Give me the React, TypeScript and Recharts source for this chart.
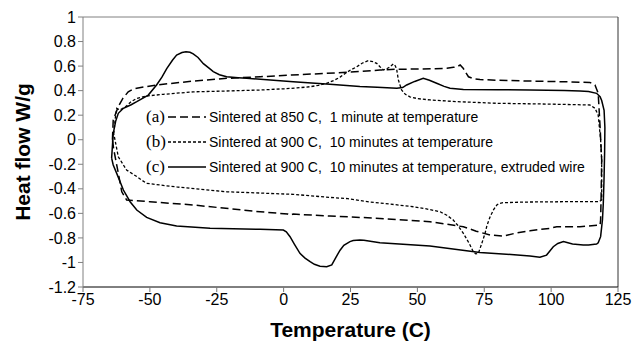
import React from 'react';
import { LineChart, Line, XAxis, YAxis, ReferenceLine, Legend } from 'recharts';

// Temperature (C) ticks and Heat flow (W/g) ticks
const xTicks = [-75, -50, -25, 0, 25, 50, 75, 100, 125];
const yTicks = [-1.2, -1, -0.8, -0.6, -0.4, -0.2, 0, 0.2, 0.4, 0.6, 0.8, 1];

const seriesNames = [
  'Sintered at 850 C,  1 minute at temperature',
  'Sintered at 900 C,  10 minutes at temperature',
  'Sintered at 900 C,  10 minutes at temperature, extruded wire',
];
const seriesTags = ['(a)', '(b)', '(c)'];

// (a) Sintered at 850 C, 1 minute — loop: heating (upper) then cooling (lower)
const aTemp = [
  -64, -63.7, -61.8, -60, -58.1, -56.5, -54.9, -47.5, -33.8, -21.3, -8.8, 3, 16.1, 28.5, 36, 42.3, 55, 61, 63.5, 64.7, 66,
  67.2, 68, 69.1, 71, 73.4, 80, 92.1, 105, 114.5, 116.4, 117.6, 118.3, 118.9, 118.7, 118.5, 118.3,
  114, 110.8, 102.1, 99.6, 96, 92.1, 87, 82.1, 77.2, 72, 67.2, 60, 54.7, 36, 28.5, 17.3, 3.6, 2.4, 1.5, -8.8, -33.8, -50,
  -58.7, -60.5, -62, -63.5, -64,
];
const aFlow = [
  0.0, 0.16, 0.27, 0.34, 0.39, 0.41, 0.42, 0.446, 0.478, 0.5, 0.513, 0.527, 0.541, 0.556, 0.568, 0.574, 0.578, 0.582, 0.59, 0.594, 0.609,
  0.58, 0.55, 0.513, 0.497, 0.49, 0.485, 0.478, 0.472, 0.467, 0.446, 0.378, 0.106, -0.165, -0.45, -0.654, -0.695,
  -0.703, -0.709, -0.709, -0.722, -0.73, -0.742, -0.76, -0.785, -0.777, -0.745, -0.709, -0.685, -0.668, -0.641, -0.633, -0.622, -0.606, -0.614, -0.605, -0.587, -0.532, -0.505,
  -0.491, -0.424, -0.25, -0.08, 0.0,
];

// (b) Sintered at 900 C, 10 minutes
const bTemp = [
  -63.5, -62.8, -62.4, -61.2, -59, -57, -54.9, -51.2, -45, -33.8, -20, -8.8, 0, 5, 9.9, 13, 16.1, 19, 21.1, 23, 25, 27.3, 29.5,
  31.6, 33.3, 34.8, 36, 37.3, 38.5, 39.8, 41, 41.8, 42.3, 42.9, 44.1, 45.5, 47.2, 50, 54.7, 65, 79.7, 100, 114.5, 116.4, 117.6,
  118.5, 118.9, 118.9, 118.9,
  118, 117, 104.6, 90, 82.1, 80.5, 79.7, 78.5, 77.2, 76, 75.3, 74, 72.8, 71.8, 70.9, 69.5, 67.2, 65, 63.4, 61, 58.5, 53, 48.5,
  40, 32, 28.5, 24, 17.3, 3.6, -21.3, -40, -46.2, -51.2, -53, -54.9, -58.7, -61.8, -63.5,
];
const bFlow = [
  0.05, 0.2, 0.256, 0.242, 0.27, 0.31, 0.337, 0.356, 0.37, 0.39, 0.398, 0.405, 0.415, 0.422, 0.432, 0.443, 0.46, 0.485, 0.51, 0.54, 0.568, 0.594, 0.625,
  0.644, 0.637, 0.622, 0.595, 0.568, 0.578, 0.594, 0.617, 0.6, 0.568, 0.487, 0.405, 0.37, 0.35, 0.335, 0.324, 0.31, 0.297, 0.29, 0.283, 0.256, 0.2,
  0.0, -0.165, -0.35, -0.49,
  -0.505, -0.505, -0.505, -0.508, -0.513, -0.52, -0.532, -0.57, -0.627, -0.7, -0.763, -0.85, -0.926, -0.93, -0.912, -0.85, -0.763, -0.695, -0.654, -0.615, -0.587, -0.562, -0.546,
  -0.525, -0.507, -0.495, -0.48, -0.47, -0.445, -0.424, -0.385, -0.369, -0.355, -0.33, -0.3, -0.247, -0.139, 0.05,
];

// (c) Sintered at 900 C, 10 minutes, extruded wire
const cTemp = [
  -64.3, -63.7, -62.8, -61.8, -59.9, -57, -54.9, -50.6, -47.5, -45.5, -43.7, -41.5, -40, -38, -36.5, -35, -33.8, -32, -30, -28,
  -26.3, -24, -21.3, -17, -13.8, -5, 3.6, 17.3, 28.5, 35, 42.3, 44.5, 46, 49, 52.2, 54.5, 57.2, 60, 62.2, 67.2, 80, 92.1, 105,
  110.8, 114, 117, 118.3, 118.9, 119.8, 120.1, 120, 119.8, 119.5, 119.2, 118.9, 118.5, 117.6,
  117, 114, 112, 108, 104.6, 102.5, 100.8, 98.3, 95.8, 92.1, 85, 73.4, 54.7, 36, 30, 28.5, 26, 24.8, 22.5, 21.1, 19.5, 18,
  16.1, 13.6, 11.5, 9.9, 8, 6.1, 4, 2.4, 1, -0.1, -8.8, -27.5, -40, -46.2, -51.2, -54.9, -57.4, -59.9, -62.4, -63.7, -64.3,
];
const cFlow = [
  -0.15, 0.05, 0.15, 0.215, 0.256, 0.285, 0.31, 0.364, 0.446, 0.51, 0.58, 0.65, 0.69, 0.71, 0.717, 0.713, 0.7, 0.67, 0.62, 0.585,
  0.555, 0.53, 0.513, 0.505, 0.5, 0.487, 0.473, 0.453, 0.434, 0.427, 0.419, 0.425, 0.446, 0.475, 0.5, 0.485, 0.46, 0.435, 0.419, 0.41, 0.407, 0.405, 0.401,
  0.397, 0.392, 0.378, 0.35, 0.32, 0.24, 0.1, -0.1, -0.3, -0.52, -0.65, -0.71, -0.79, -0.84,
  -0.85, -0.857, -0.858, -0.85, -0.83, -0.845, -0.872, -0.94, -0.958, -0.948, -0.935, -0.918, -0.866, -0.84, -0.82, -0.817, -0.822, -0.83, -0.86, -0.9, -0.96, -1.02,
  -1.035, -1.03, -1.015, -0.994, -0.965, -0.926, -0.85, -0.79, -0.75, -0.736, -0.73, -0.722, -0.703, -0.676, -0.633, -0.573, -0.505, -0.41, -0.274, -0.206, -0.15,
];

const zip = (t: number[], q: number[]) => t.map((v, i) => ({ t: v, q: q[i] }));
const dataA = zip(aTemp, aFlow);
const dataB = zip(bTemp, bFlow);
const dataC = zip(cTemp, cFlow);

const dashes = ['8 4', '3 2', undefined];
const widths = [1.5, 1.3, 1.5];

const LegendBox = () => (
  <div style={{ display: 'flex', flexDirection: 'column' }}>
    {seriesNames.map((name, i) => (
      <div key={name} style={{ display: 'flex', alignItems: 'center', height: 25 }}>
        <span style={{ fontFamily: '"Liberation Serif", serif', fontSize: 17, color: '#000', width: 22 }}>{seriesTags[i]}</span>
        <svg width={38} height={10} style={{ display: 'block' }}>
          <line x1={0} y1={5} x2={38} y2={5} stroke="#000" strokeWidth={widths[i]} strokeDasharray={dashes[i]} />
        </svg>
        <span style={{ fontFamily: '"Liberation Sans", Arial, sans-serif', fontSize: 14, color: '#000', marginLeft: 3, whiteSpace: 'pre' }}>
          {name}
        </span>
      </div>
    ))}
  </div>
);

export default function App() {
  const tickStyle = { fill: '#000', fontSize: 16, fontFamily: '"Liberation Sans", Arial, sans-serif' };
  const titleStyle = { fill: '#000', fontSize: 21, fontWeight: 700, fontFamily: '"Liberation Sans", Arial, sans-serif' };
  return (
    <div style={{ position: 'absolute', left: 0, top: 0, background: '#fff' }}>
      <LineChart width={633} height={347} margin={{ top: 17, right: 15, left: 0, bottom: 0 }}>
        <XAxis
          type="number"
          dataKey="t"
          domain={[-75, 125]}
          ticks={xTicks}
          allowDuplicatedCategory={false}
          height={60}
          axisLine={{ stroke: '#000' }}
          tickLine={{ stroke: '#777' }}
          tickSize={5}
          tick={tickStyle}
          label={{ value: 'Temperature (C)', position: 'insideBottom', offset: 10, style: titleStyle }}
        />
        <YAxis
          type="number"
          domain={[-1.2, 1]}
          ticks={yTicks}
          width={83}
          axisLine={{ stroke: '#808080' }}
          tickLine={{ stroke: '#808080' }}
          tickSize={5}
          tick={tickStyle}
          label={{ value: 'Heat flow W/g', angle: -90, position: 'center', dx: -19, style: titleStyle }}
        />
        <ReferenceLine y={1} stroke="#808080" />
        <ReferenceLine x={125} stroke="#333" />
        <Legend
          layout="vertical"
          align="center"
          verticalAlign="middle"
          wrapperStyle={{ left: 146, top: 104, width: 470 }}
          content={() => <LegendBox />}
        />
        <Line data={dataA} dataKey="q" type="linear" stroke="#000" strokeWidth={widths[0]} strokeDasharray={dashes[0]} dot={false} isAnimationActive={false} />
        <Line data={dataB} dataKey="q" type="linear" stroke="#000" strokeWidth={widths[1]} strokeDasharray={dashes[1]} dot={false} isAnimationActive={false} />
        <Line data={dataC} dataKey="q" type="linear" stroke="#000" strokeWidth={widths[2]} dot={false} isAnimationActive={false} />
      </LineChart>
    </div>
  );
}
